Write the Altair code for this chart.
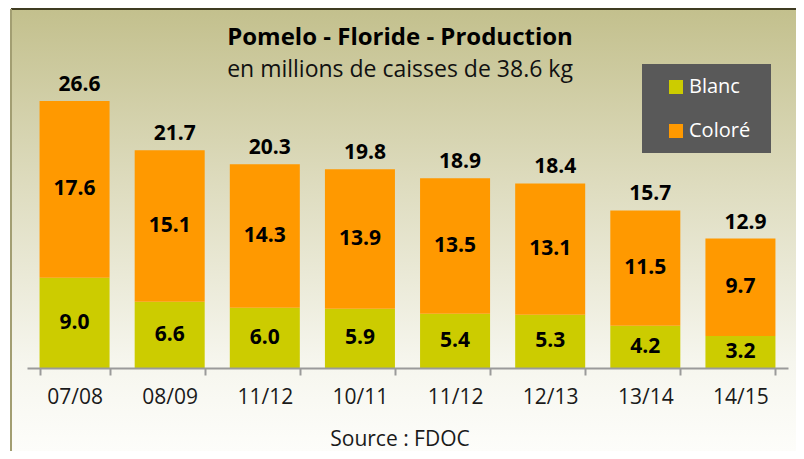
import altair as alt
import pandas as pd

campagnes = ["07/08", "08/09", "11/12", "10/11", "11/12", "12/13", "13/14", "14/15"]
blanc = [9.0, 6.6, 6.0, 5.9, 5.4, 5.3, 4.2, 3.2]
colore = [17.6, 15.1, 14.3, 13.9, 13.5, 13.1, 11.5, 9.7]
totaux = [26.6, 21.7, 20.3, 19.8, 18.9, 18.4, 15.7, 12.9]
series = ["Blanc", "Coloré"]
couleurs = ["#cccc00", "#ff9900"]

titre = "Pomelo - Floride - Production"
sous_titre = "en millions de caisses de 38.6 kg"
source = "Source : FDOC"

FONT = "Open Sans"

rows = []
for i, c in enumerate(campagnes):
    rows.append({"idx": i, "campagne": c, "serie": "Blanc", "valeur": blanc[i]})
    rows.append({"idx": i, "campagne": c, "serie": "Coloré", "valeur": colore[i]})
df = pd.DataFrame(rows)
df_tot = pd.DataFrame({"idx": list(range(len(campagnes))), "total": totaux})

label_expr = "[" + ",".join("'" + c + "'" for c in campagnes) + "][datum.value]"

W, H = 761, 301

xenc = alt.X(
    "idx:O",
    title=None,
    scale=alt.Scale(paddingInner=0.264, paddingOuter=0.132),
    axis=alt.Axis(
        labelExpr=label_expr,
        labelAngle=0,
        tickBand="extent",
        domainColor="#9a9a9a",
        domainWidth=2,
        tickColor="#9a9a9a",
        tickWidth=2,
        tickSize=7,
        labelFont=FONT,
        labelFontSize=21,
        labelColor="#1a1a1a",
        labelPadding=11,
        grid=False,
        zindex=2,
    ),
)
yscale = alt.Scale(domain=[0, 30])

bg = alt.Chart(alt.Data(values=[{}])).mark_rect(
    color=alt.LinearGradient(
        gradient="linear",
        stops=[
            alt.GradientStop(color="#c3c08d", offset=0),
            alt.GradientStop(color="#dedcbf", offset=0.4),
            alt.GradientStop(color="#f6f6ee", offset=0.8),
            alt.GradientStop(color="#fdfdfa", offset=1),
        ],
        x1=0, x2=0, y1=0, y2=1,
    )
).encode(x=alt.value(-16), x2=alt.value(769), y=alt.value(-58), y2=alt.value(384))

top_line = alt.Chart(alt.Data(values=[{}])).mark_rule(color="#3f3c22", strokeWidth=2).encode(
    x=alt.value(-16), x2=alt.value(769), y=alt.value(-58)
)
left_line = alt.Chart(alt.Data(values=[{}])).mark_rule(color="#a29e72", strokeWidth=2).encode(
    x=alt.value(-16), y=alt.value(-58), y2=alt.value(384)
)

legend_box = alt.Chart(alt.Data(values=[{}])).mark_rect(color="#595959").encode(
    x=alt.value(615), x2=alt.value(744), y=alt.value(-3), y2=alt.value(86)
)

bars = alt.Chart(df).mark_bar().encode(
    x=xenc,
    y=alt.Y("valeur:Q", stack="zero", scale=yscale, axis=None),
    color=alt.Color(
        "serie:N",
        scale=alt.Scale(domain=series, range=couleurs),
        legend=alt.Legend(
            title=None,
            orient="none",
            legendX=639,
            legendY=10,
            symbolType="square",
            symbolSize=196,
            symbolStrokeWidth=0,
            labelColor="white",
            labelFont=FONT,
            labelFontSize=20,
            labelOffset=3,
            rowPadding=24,
            padding=0,
        ),
    ),
    order=alt.Order("serie:N", sort="ascending"),
)

seg_labels = alt.Chart(df).transform_stack(
    stack="valeur", groupby=["idx"], as_=["y0", "y1"], sort=[alt.SortField("serie", order="ascending")]
).transform_calculate(
    mid="(datum.y0 + datum.y1) / 2",
    lab="format(datum.valeur, '.1f')",
).mark_text(font=FONT, fontSize=21, fontWeight="bold", color="black", baseline="middle").encode(
    x=xenc,
    y=alt.Y("mid:Q", scale=yscale, axis=None),
    text="lab:N",
)

tot_labels = alt.Chart(df_tot).transform_calculate(
    lab="format(datum.total, '.1f')"
).mark_text(font=FONT, fontSize=21, fontWeight="bold", color="black", baseline="middle", dy=-16, dx=5).encode(
    x=xenc,
    y=alt.Y("total:Q", scale=yscale, axis=None),
    text="lab:N",
)

t1 = alt.Chart(pd.DataFrame({"t": [titre]})).mark_text(
    font=FONT, fontSize=24, fontWeight="bold", color="black", baseline="middle", align="center"
).encode(x=alt.value(373), y=alt.value(-29), text="t:N")
t2 = alt.Chart(pd.DataFrame({"t": [sous_titre]})).mark_text(
    font=FONT, fontSize=23, color="#111111", baseline="middle", align="center"
).encode(x=alt.value(373), y=alt.value(3), text="t:N")
t3 = alt.Chart(pd.DataFrame({"t": [source]})).mark_text(
    font=FONT, fontSize=21, color="#1a1a1a", baseline="middle", align="center"
).encode(x=alt.value(373), y=alt.value(373), text="t:N")

chart = alt.layer(
    bg, top_line, left_line, legend_box, bars, seg_labels, tot_labels, t1, t2, t3
).properties(
    width=W, height=H,
    padding={"left": 19, "top": 59, "right": 8, "bottom": 83},
    autosize=alt.AutoSizeParams(type="none"),
).configure_view(stroke=None).configure(background="white")

chart.save("out.html", embed_options={"renderer": "svg", "actions": False})
